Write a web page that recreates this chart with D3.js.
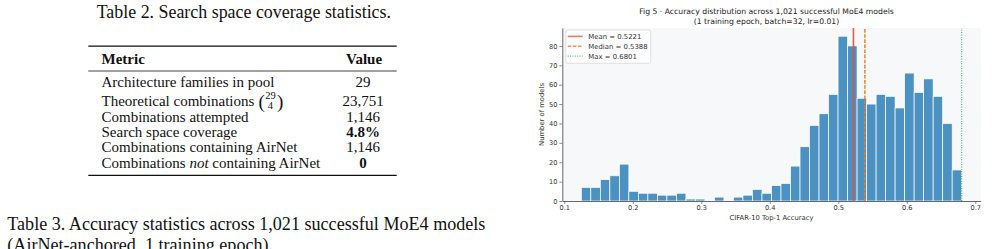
<!DOCTYPE html>
<html><head><meta charset="utf-8">
<script src="https://cdn.jsdelivr.net/npm/d3@7"></script>
<style>html,body{margin:0;padding:0;background:#fff;overflow:hidden}</style>
</head><body>
<svg id="page" width="1000" height="249"></svg>
<script>
// ---------- data ----------
const binCounts = [7,7,11,13,19,5,4,4,3,3,4,1,1,0,2,0,2,3,6,4,8,9,18,28,39,45,55,85,80,53,50,55,54,48,66,56,63,54,40,16];
const accMin = 0.1249, accMax = 0.6801;
const meanAcc = 0.5221, medianAcc = 0.5388;
const xTicks = [0.1,0.2,0.3,0.4,0.5,0.6,0.7];
const yTicks = [0,10,20,30,40,50,60,70,80];
const legendLabels = ["Mean = 0.5221","Median = 0.5388","Max = 0.6801"];
const chartTitle = ["Fig 5 \u00b7 Accuracy distribution across 1,021 successful MoE4 models","(1 training epoch, batch=32, lr=0.01)"];
const xLabel = "CIFAR-10 Top-1 Accuracy", yLabel = "Number of models";

const tableCaption = "Table 2. Search space coverage statistics.";
const tableHeader = ["Metric","Value"];
const tableMetrics = ["Architecture families in pool","Theoretical combinations","Combinations attempted","Search space coverage","Combinations containing AirNet","Combinations |not| containing AirNet"];
const tableValues = ["29","23,751","1,146","4.8%","1,146","0"];
const boldValues = [false,false,false,true,false,true];
const table3Caption = ["Table 3. Accuracy statistics across 1,021 successful MoE4 models","(AirNet-anchored, 1 training epoch)."];

const svg = d3.select("#page");

// ---------- left table ----------
const serif = "'Liberation Serif','Times New Roman',serif";
const T = svg.append("g").attr("font-family", serif).attr("fill","#111");
T.append("text").attr("x",96.7).attr("y",18.3).attr("font-size",17.9).text(tableCaption);
const ruleX0 = 88.3, ruleX1 = 396.7, valX = 363, metX = 101.5;
T.append("line").attr("x1",ruleX0).attr("x2",ruleX1).attr("y1",46.2).attr("y2",46.2).attr("stroke","#111").attr("stroke-width",1.3);
T.append("line").attr("x1",ruleX0).attr("x2",ruleX1).attr("y1",71).attr("y2",71).attr("stroke","#111").attr("stroke-width",0.8);
T.append("line").attr("x1",ruleX0).attr("x2",ruleX1).attr("y1",175.3).attr("y2",175.3).attr("stroke","#111").attr("stroke-width",1.3);
T.append("text").attr("x",metX).attr("y",63.5).attr("font-size",15).attr("font-weight","bold").text(tableHeader[0]);
T.append("text").attr("x",valX+1).attr("y",63.5).attr("font-size",15).attr("font-weight","bold").attr("text-anchor","middle").text(tableHeader[1]);
const rowY = [87.3,105.7,121.6,136.9,152.2,167.6];
tableMetrics.forEach((m,i)=>{
  const t = T.append("text").attr("x",metX).attr("y",rowY[i]).attr("font-size",15);
  m.split("|").forEach((part,j)=>{
    const sp = t.append("tspan").text(part);
    if (j===1) sp.attr("font-style","italic");
  });
  if (i===1) {
    const w = t.node().getComputedTextLength();
    const bx = metX + w + 4;
    T.append("text").attr("x",bx).attr("y",rowY[i]+2).attr("font-size",19).text("(");
    T.append("text").attr("x",bx+12).attr("y",rowY[i]-6.5).attr("font-size",10.5).attr("text-anchor","middle").text("29");
    T.append("text").attr("x",bx+12).attr("y",rowY[i]+2.8).attr("font-size",10.5).attr("text-anchor","middle").text("4");
    T.append("text").attr("x",bx+18.5).attr("y",rowY[i]+2).attr("font-size",19).text(")");
  }
  T.append("text").attr("x",valX).attr("y",rowY[i]).attr("font-size",15).attr("text-anchor","middle")
    .attr("font-weight",boldValues[i]?"bold":"normal").text(tableValues[i]);
});
T.append("text").attr("x",7.3).attr("y",229.5).attr("font-size",18.1).text(table3Caption[0]);
T.append("text").attr("x",7.3).attr("y",250.5).attr("font-size",18.1).text(table3Caption[1]);

// ---------- histogram ----------
const sans = "'DejaVu Sans',sans-serif";
const L = 562.3, R = 980.7, TOP = 28, BOT = 201;
const span = accMax - accMin;
const x = d3.scaleLinear().domain([accMin - 0.05*span, accMax + 0.05*span]).range([L, R]);
const y = d3.scaleLinear().domain([0, d3.max(binCounts)*1.05]).range([BOT, TOP]);
const G = svg.append("g").attr("font-family", sans);
G.append("rect").attr("x",L).attr("y",TOP).attr("width",R-L).attr("height",BOT-TOP).attr("fill","#f7f8fa");

const bw = span / binCounts.length;
const bins = binCounts.map((c,i)=>({x0: accMin + i*bw, x1: accMin + (i+1)*bw, c}));
G.append("g").selectAll("rect").data(bins).join("rect")
  .attr("x",d=>x(d.x0)).attr("width",d=>x(d.x1)-x(d.x0))
  .attr("y",d=>y(d.c)).attr("height",d=>y(0)-y(d.c))
  .attr("fill","#1f77b4").attr("fill-opacity",0.8)
  .attr("stroke","#ffffff").attr("stroke-width",0.7);

const vlines = [
  {v: meanAcc, color:"#e74c3c", dash:null, w:1.6, op:0.9},
  {v: medianAcc, color:"#e67e22", dash:"3.6,1.5", w:1.5, op:0.95},
  {v: accMax, color:"#27ae60", dash:"0.9,1.5", w:1.1, op:1}
];
G.append("g").selectAll("line").data(vlines).join("line")
  .attr("x1",d=>x(d.v)).attr("x2",d=>x(d.v)).attr("y1",BOT).attr("y2",TOP)
  .attr("stroke",d=>d.color).attr("stroke-width",d=>d.w).attr("stroke-opacity",d=>d.op)
  .attr("stroke-dasharray",d=>d.dash);

const xAxis = G.append("g").attr("transform",`translate(0,${BOT})`)
  .call(d3.axisBottom(x).tickValues(xTicks).tickFormat(d3.format(".1f")).tickSize(3).tickPadding(1.6).tickSizeOuter(0));
const yAxis = G.append("g").attr("transform",`translate(${L},0)`)
  .call(d3.axisLeft(y).tickValues(yTicks).tickFormat(d3.format("d")).tickSize(3).tickPadding(1.8).tickSizeOuter(0));
[xAxis,yAxis].forEach(a=>{
  a.attr("font-family",sans).attr("font-size",6.6);
  a.selectAll("path.domain").attr("stroke","#444").attr("stroke-width",0.8);
  a.selectAll(".tick line").attr("stroke","#444").attr("stroke-width",0.6);
  a.selectAll(".tick text").attr("fill","#333");
});

G.append("text").attr("x",(L+R)/2).attr("y",219.6).attr("text-anchor","middle").attr("font-size",6.8).attr("fill","#333").text(xLabel);
G.append("text").attr("transform",`translate(543.8,${(TOP+BOT)/2}) rotate(-90)`).attr("text-anchor","middle").attr("font-size",6.8).attr("fill","#333").text(yLabel);
G.append("text").attr("x",766.5).attr("y",14.2).attr("text-anchor","middle").attr("font-size",7.7).attr("fill","#222").text(chartTitle[0]);
G.append("text").attr("x",766.5).attr("y",23.6).attr("text-anchor","middle").attr("font-size",7.7).attr("fill","#222").text(chartTitle[1]);

// legend
const lg = G.append("g");
lg.append("rect").attr("x",565.7).attr("y",30).attr("width",85).attr("height",33.3).attr("rx",2)
  .attr("fill","#ffffff").attr("fill-opacity",0.85).attr("stroke","#d6d6d6").attr("stroke-width",0.7);
const legY = [36.4,46.2,56.1];
legendLabels.forEach((lab,i)=>{
  const s = vlines[i];
  lg.append("line").attr("x1",567.7).attr("x2",582.7).attr("y1",legY[i]).attr("y2",legY[i])
    .attr("stroke",s.color).attr("stroke-width",s.w).attr("stroke-opacity",s.op*0.85).attr("stroke-dasharray",s.dash);
  lg.append("text").attr("x",588.3).attr("y",legY[i]+2.4).attr("font-size",6.9).attr("fill","#333").text(lab);
});
</script>
</body></html>
